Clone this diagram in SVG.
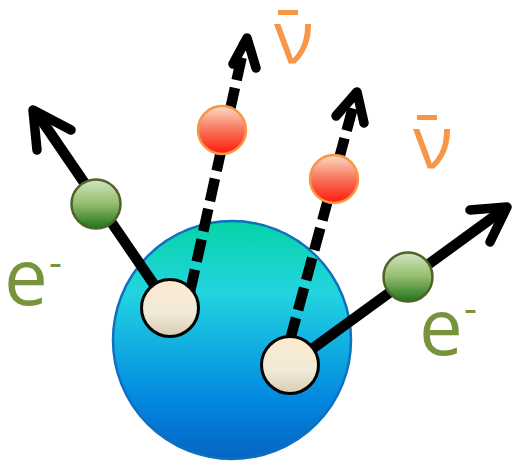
<svg xmlns="http://www.w3.org/2000/svg" width="512" height="462" viewBox="0 0 512 462">
  <defs>
    <linearGradient id="gNucleus" x1="0" y1="0" x2="0" y2="1">
      <stop offset="0" stop-color="#05D3A6"/>
      <stop offset="0.3" stop-color="#22D5E0"/>
      <stop offset="0.75" stop-color="#0288E0"/>
      <stop offset="1" stop-color="#0565C4"/>
    </linearGradient>
    <linearGradient id="gNucleon" x1="0" y1="0" x2="0" y2="1">
      <stop offset="0" stop-color="#FCEBD0"/>
      <stop offset="0.6" stop-color="#F0EAD8"/>
      <stop offset="1" stop-color="#D8CBB2"/>
    </linearGradient>
    <linearGradient id="gElectron" x1="0" y1="0" x2="0" y2="1">
      <stop offset="0" stop-color="#D2E6C2"/>
      <stop offset="0.5" stop-color="#94BC6E"/>
      <stop offset="1" stop-color="#1E7418"/>
    </linearGradient>
    <linearGradient id="gNeutrino" x1="0" y1="0" x2="0" y2="1">
      <stop offset="0" stop-color="#FBDCC4"/>
      <stop offset="0.5" stop-color="#F8735A"/>
      <stop offset="1" stop-color="#FF1A0A"/>
    </linearGradient>
  </defs>
  <style>
    .track { stroke: #000; stroke-width: 10.5; fill: none; stroke-linecap: butt; }
    .dash { stroke-dasharray: 23 8; }
    .head { stroke: #000; stroke-width: 9.5; fill: none; stroke-linecap: round; stroke-linejoin: round; }
    .nucleon { fill: url(#gNucleon); stroke: #000; stroke-width: 3; }
    .electron { fill: url(#gElectron); stroke: #4F6228; stroke-width: 2.5; }
    .neutrino { fill: url(#gNeutrino); stroke: #F79646; stroke-width: 2.5; }
    .lblE { font-family: "Open Sans", "Noto Sans", sans-serif; fill: #77933C; }
    .lblN { font-family: "Open Sans", "Noto Sans", sans-serif; fill: #F79646; }
  </style>

  <g id="nucleus">
    <circle cx="232" cy="340" r="119" fill="url(#gNucleus)" stroke="#1070C0" stroke-width="2.5"/>
  </g>

  <g id="connectors">
    <!-- electron tracks -->
    <line class="track" x1="170" y1="308" x2="38" y2="115"/>
    <polyline class="head" points="37,150 33,110 71,130"/>
    <line class="track" x1="290" y1="365" x2="503" y2="210"/>
    <polyline class="head" points="470,210 507,207 490,242"/>
    <!-- antineutrino tracks -->
    <line class="track dash" x1="190" y1="292" x2="245" y2="42"/>
    <polyline class="head" points="233,64 247,38 256,68"/>
    <line class="track dash" x1="290" y1="340" x2="356" y2="96"/>
    <polyline class="head" points="336,116 357,92 364,123"/>
  </g>

  <g id="nucleon-left"><circle class="nucleon" cx="170" cy="308" r="28.5"/></g>
  <g id="nucleon-right"><circle class="nucleon" cx="290" cy="365" r="28.5"/></g>

  <g id="electron-left"><circle class="electron" cx="96" cy="204" r="24.5"/></g>
  <g id="electron-right"><circle class="electron" cx="408" cy="277" r="24.5"/></g>

  <g id="neutrino-left"><circle class="neutrino" cx="222" cy="130" r="24"/></g>
  <g id="neutrino-right"><circle class="neutrino" cx="334" cy="179" r="24"/></g>

  <g id="label-e-left">
    <text class="lblE" x="4" y="305" font-size="78">e</text>
    <text class="lblE" x="49" y="276" font-size="40">-</text>
  </g>
  <g id="label-e-right">
    <text class="lblE" x="419" y="355" font-size="78">e</text>
    <text class="lblE" x="464" y="322" font-size="40">-</text>
  </g>
  <g id="label-nu-top">
    <text class="lblN" x="274" y="63" font-size="74">ν</text>
    <rect x="278" y="10" width="20" height="5" fill="#F79646"/>
  </g>
  <g id="label-nu-right">
    <text class="lblN" x="413" y="168" font-size="74">ν</text>
    <rect x="417" y="115" width="20" height="5" fill="#F79646"/>
  </g>
</svg>
